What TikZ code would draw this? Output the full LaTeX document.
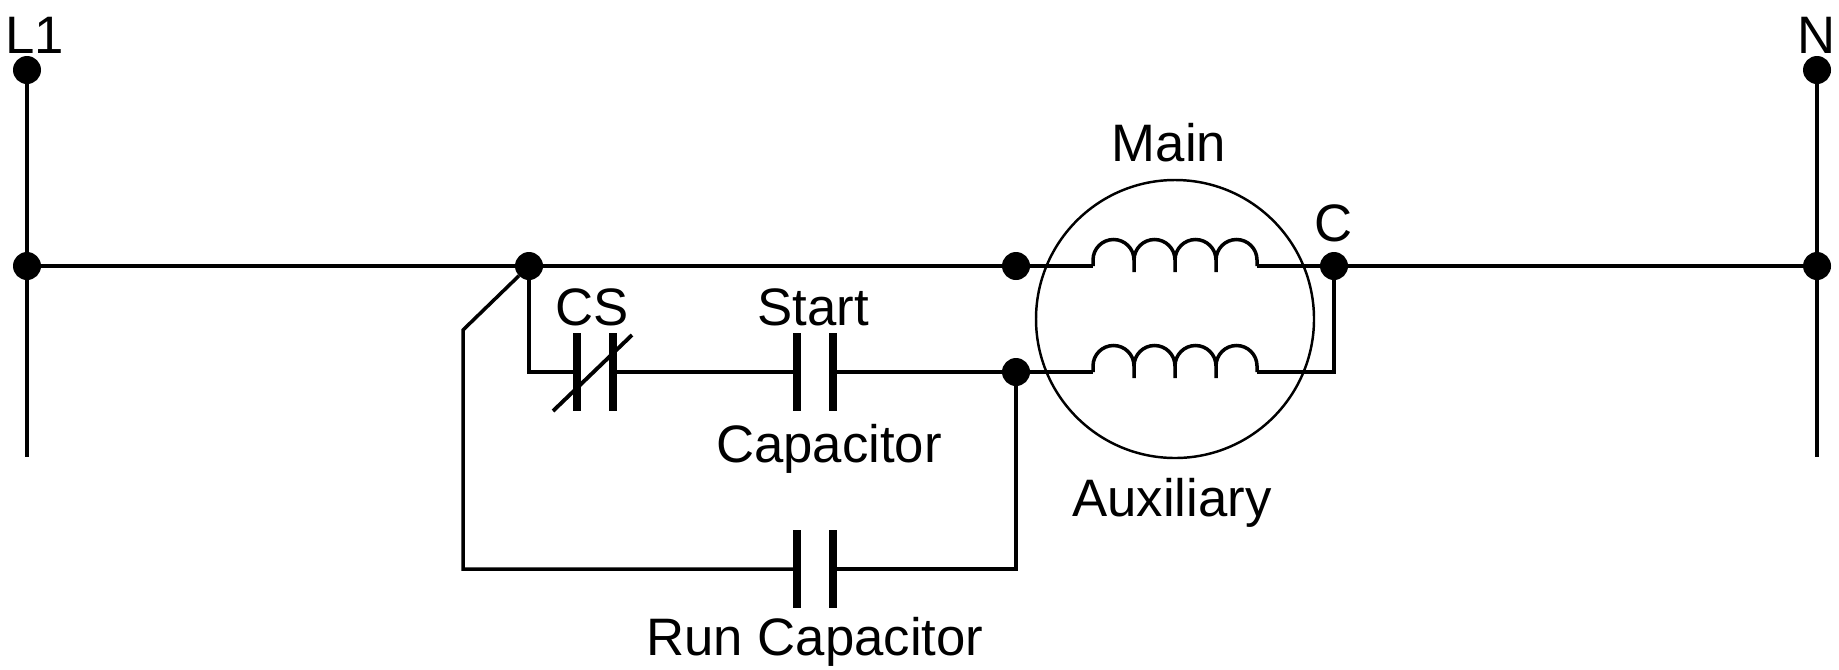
\documentclass[tikz,border=0pt]{standalone}
\usepackage{fontspec}
\setmainfont{Liberation Sans}
\usetikzlibrary{positioning, calc}

\begin{document}
\begin{tikzpicture}[dot/.style={circle,fill=black,inner sep=0pt,outer sep=0pt,minimum size=0.28cm}, plate/.style={rectangle,fill=black,inner sep=0pt,outer sep=0pt,minimum width=0.08cm,minimum height=0.78cm}, label/.style={inner sep=0pt,font=\fontsize{15pt}{18pt}\selectfont}, wire/.style={line width=1pt}, coil/.pic={
        \draw[wire] (0,0) -- (0,0.06) arc[start angle=180,end angle=0,radius=0.205] -- (0.41,-0.06);
        \draw[wire] (0.41,0.06) arc[start angle=180,end angle=0,radius=0.205] -- (0.82,-0.06);
        \draw[wire] (0.82,0.06) arc[start angle=180,end angle=0,radius=0.205] -- (1.23,-0.06);
        \draw[wire] (1.23,0.06) arc[start angle=180,end angle=0,radius=0.205] -- (1.64,0);
    }]
        \useasboundingbox (0,0) rectangle (18.39,-6.69);

        \node[dot] (l1) at (0.27,-0.70) {};
        \node[dot] (l2) at (0.27,-2.66) {};
        \coordinate (l3) at (0.27,-4.57);
        \node[dot] (n1) at (18.17,-0.70) {};
        \node[dot] (n2) at (18.17,-2.66) {};
        \coordinate (n3) at (18.17,-4.57);
        \node[dot] (j1) at (5.29,-2.66) {};
        \node[dot] (m1) at (10.16,-2.66) {};
        \node[dot] (m2) at (10.16,-3.72) {};
        \node[dot] (c1) at (13.34,-2.66) {};
        \node[circle,draw,line width=0.7pt,inner sep=0pt,minimum size=2.78cm] (motor) at (11.75,-3.19) {};

        % start branch
        \node[plate] (cs1) at (5.77,-3.72) {};
        \node[plate, right=0.28cm of cs1] (cs2) {};
        \node[plate] (st1) at (7.97,-3.72) {};
        \node[plate, right=0.28cm of st1] (st2) {};

        % run branch
        \node[plate] (rn1) at (7.97,-5.69) {};
        \node[plate, right=0.28cm of rn1] (rn2) {};
        \coordinate (kink) at (4.63,-3.30);
        \coordinate (rcl) at (4.63,-5.69);
        \coordinate (rcr) at (10.16,-5.69);

        % windings
        \coordinate (w1) at (10.93,-2.66);
        \coordinate (w2) at (12.57,-2.66);
        \coordinate (w3) at (10.93,-3.72);
        \coordinate (w4) at (12.57,-3.72);
        \coordinate (w5) at (13.34,-3.72);
        \pic at (w1) {coil};
        \pic at (w3) {coil};

        \draw[wire] (l1) -- (l2);
        \draw[wire] (l2) -- (l3);
        \draw[wire] (n1) -- (n2);
        \draw[wire] (n2) -- (n3);
        \draw[wire] (l2) -- (j1);
        \draw[wire] (j1) -- (m1);
        \draw[wire] (m1) -- (w1);
        \draw[wire] (w2) -- (c1);
        \draw[wire] (c1) -- (n2);
        \draw[wire] (j1) |- (cs1);
        \draw[wire] (cs2) -- (st1);
        \draw[wire] (st2) -- (m2);
        \draw[wire] (m2) -- (w3);
        \draw[wire] (w4) -- (w5) -- (c1);
        \draw[wire] (m2) -- (rcr) -- (rn2);
        \draw[wire] (j1) -- (kink) -- (rcl) -- (rn1);
        \draw[line width=1.1pt] ($(cs1)+(-0.24,-0.39)$) -- ($(cs2)+(0.19,0.37)$);

        \node[label] (tl1) at (0.35,-0.35) {L1};
        \node[label] (tn) at (18.17,-0.35) {N};
        \node[label] (tmain) at (11.69,-1.43) {Main};
        \node[label] (tc) at (13.34,-2.23) {C};
        \node[label] (tcs) at (5.92,-3.07) {CS};
        \node[label] (tstart) at (8.13,-3.07) {Start};
        \node[label] (tcap) at (8.29,-4.49) {Capacitor};
        \node[label] (taux) at (11.72,-5.03) {Auxiliary};
        \node[label] (trun) at (8.15,-6.42) {Run Capacitor};
    \end{tikzpicture}
\end{document}
